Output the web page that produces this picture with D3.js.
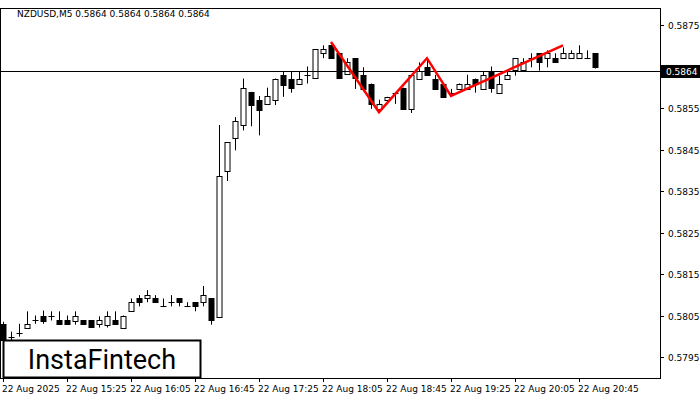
<!DOCTYPE html>
<html><head><meta charset="utf-8">
<script src="https://cdn.jsdelivr.net/npm/d3@7"></script>
<style>body{margin:0;background:#fff}svg{display:block}</style>
</head><body><svg id="c" width="700" height="400"></svg>
<script>
const open=[.58030,.57999,.58009,.58021,.58038,.58050,.58050,.58038,.58038,.58038,.58038,.58038,.58028,.58028,.58038,.58021,.58060,.58091,.58091,.58091,.58072,.58082,.58091,.58072,.58082,.58082,.58091,.58048,.58396,.58477,.58509,.58589,.58570,.58560,.58570,.58630,.58621,.58609,.58630,.58621,.58682,.58701,.58682,.58630,.58670,.58630,.58609,.58548,.58570,.58587,.58599,.58548,.58621,.58650,.58621,.58609,.58587,.58596,.58596,.58621,.58596,.58638,.58587,.58621,.58640,.58640,.58670,.58682,.58670,.58670,.58670,.58670,.58670,.58670,.58682];
const high=[.58035,.58011,.58030,.58060,.58050,.58062,.58060,.58060,.58050,.58060,.58038,.58038,.58048,.58060,.58060,.58050,.58091,.58099,.58111,.58099,.58091,.58099,.58091,.58082,.58082,.58121,.58091,.58509,.58467,.58528,.58621,.58589,.58579,.58599,.58621,.58638,.58638,.58638,.58650,.58691,.58701,.58701,.58682,.58670,.58670,.58648,.58609,.58570,.58577,.58587,.58599,.58630,.58660,.58667,.58630,.58609,.58596,.58609,.58630,.58621,.58638,.58650,.58628,.58638,.58670,.58670,.58682,.58682,.58689,.58682,.58696,.58689,.58701,.58689,.58682];
const low=[.57989,.57989,.57999,.58021,.58030,.58030,.58038,.58028,.58028,.58028,.58028,.58021,.58021,.58021,.58028,.58021,.58060,.58072,.58082,.58082,.58072,.58072,.58072,.58072,.58060,.58072,.58028,.58048,.58374,.58448,.58496,.58506,.58484,.58560,.58557,.58577,.58587,.58609,.58609,.58621,.58670,.58670,.58621,.58630,.58596,.58596,.58548,.58538,.58560,.58560,.58548,.58538,.58621,.58630,.58596,.58577,.58579,.58596,.58596,.58587,.58596,.58587,.58587,.58621,.58628,.58640,.58648,.58640,.58648,.58660,.58670,.58670,.58670,.58670,.58645];
const close=[.57991,.57999,.58009,.58030,.58038,.58038,.58050,.58028,.58028,.58050,.58028,.58021,.58038,.58050,.58028,.58050,.58082,.58082,.58099,.58082,.58072,.58082,.58082,.58072,.58072,.58099,.58038,.58387,.58467,.58518,.58599,.58557,.58545,.58579,.58621,.58606,.58599,.58621,.58630,.58691,.58691,.58670,.58621,.58660,.58621,.58596,.58560,.58560,.58577,.58587,.58548,.58630,.58640,.58630,.58596,.58577,.58587,.58609,.58609,.58609,.58630,.58596,.58609,.58630,.58670,.58660,.58670,.58660,.58682,.58660,.58682,.58682,.58682,.58670,.58648];
const yTicks=[0.5795,0.5805,0.5815,0.5825,0.5835,0.5845,0.5855,0.5875];
const xLabels=["22 Aug 2025","22 Aug 15:25","22 Aug 16:05","22 Aug 16:45","22 Aug 17:25","22 Aug 18:05","22 Aug 18:45","22 Aug 19:25","22 Aug 20:05","22 Aug 20:45"];
const patIdx=[41,47,53,56,70];
const patVal=[.58709,.58540,.58670,.58579,.58701];
const current=0.5864;
const title="NZDUSD,M5  0.5864 0.5864 0.5864 0.5864";

const svg=d3.select("#c");
const L=0,R=660,T=8,B=378;
const y=d3.scaleLinear().domain([0.5875,0.5795]).range([25,357]);
const x=d3.scaleLinear().domain([0,1]).range([3,11]);
svg.append("rect").attr("x",L+0.5).attr("y",T+0.5).attr("width",R-L).attr("height",B-T).attr("fill","none").attr("stroke","#000");
const g=svg.append("g");
const idx=d3.range(open.length);
g.selectAll(".w").data(idx).join("line").attr("x1",i=>x(i)+0.5).attr("x2",i=>x(i)+0.5)
 .attr("y1",i=>y(high[i])).attr("y2",i=>y(low[i])).attr("stroke","#000");
g.selectAll(".b").data(idx).join("rect").attr("x",i=>x(i)-2).attr("width",5)
 .attr("y",i=>Math.round(y(Math.max(open[i],close[i])))+0.5)
 .attr("height",i=>Math.max(0.01,Math.round(Math.abs(y(open[i])-y(close[i])))))
 .attr("fill",i=>close[i]<open[i]?"#000":"#fff").attr("stroke","#000");
svg.append("line").attr("x1",L).attr("x2",R).attr("y1",Math.round(y(current))+0.5).attr("y2",Math.round(y(current))+0.5).attr("stroke","#000");
svg.append("path").attr("d",d3.line().x(i=>x(patIdx[i])).y(i=>y(patVal[i]))(d3.range(patIdx.length)))
 .attr("fill","none").attr("stroke","#f00").attr("stroke-width",2.5);
const ax=svg.append("g").attr("font-family","DejaVu Sans, sans-serif").attr("font-size",9);
yTicks.forEach(v=>{const yy=Math.round(y(v))+0.5;
 ax.append("line").attr("x1",R).attr("x2",R+4).attr("y1",yy).attr("y2",yy).attr("stroke","#000");
 ax.append("text").attr("x",R+8).attr("y",yy+3).text(v.toFixed(4));});
const cy=Math.round(y(current));
ax.append("rect").attr("x",R+1).attr("y",cy-6).attr("width",39).attr("height",13).attr("fill","#000");
ax.append("text").attr("x",R+6).attr("y",cy+4).attr("fill","#fff").text(current.toFixed(4));
xLabels.forEach((t,k)=>{const xx=x(k*8);
 ax.append("line").attr("x1",xx+0.5).attr("x2",xx+0.5).attr("y1",B).attr("y2",B+4).attr("stroke","#000");
 ax.append("text").attr("x",xx-1).attr("y",B+14).text(t);});
svg.append("text").attr("x",17).attr("y",17).attr("font-family","DejaVu Sans, sans-serif").attr("font-size",9).text(title);
svg.append("rect").attr("x",3.5).attr("y",340.5).attr("width",197).attr("height",37).attr("fill","#fff").attr("stroke","#000").attr("stroke-width",2);
svg.append("text").attr("x",102).attr("y",369).attr("text-anchor","middle").attr("font-family","Roboto, sans-serif").attr("font-size",27).attr("fill","#000").text("InstaFintech");
</script></body></html>
